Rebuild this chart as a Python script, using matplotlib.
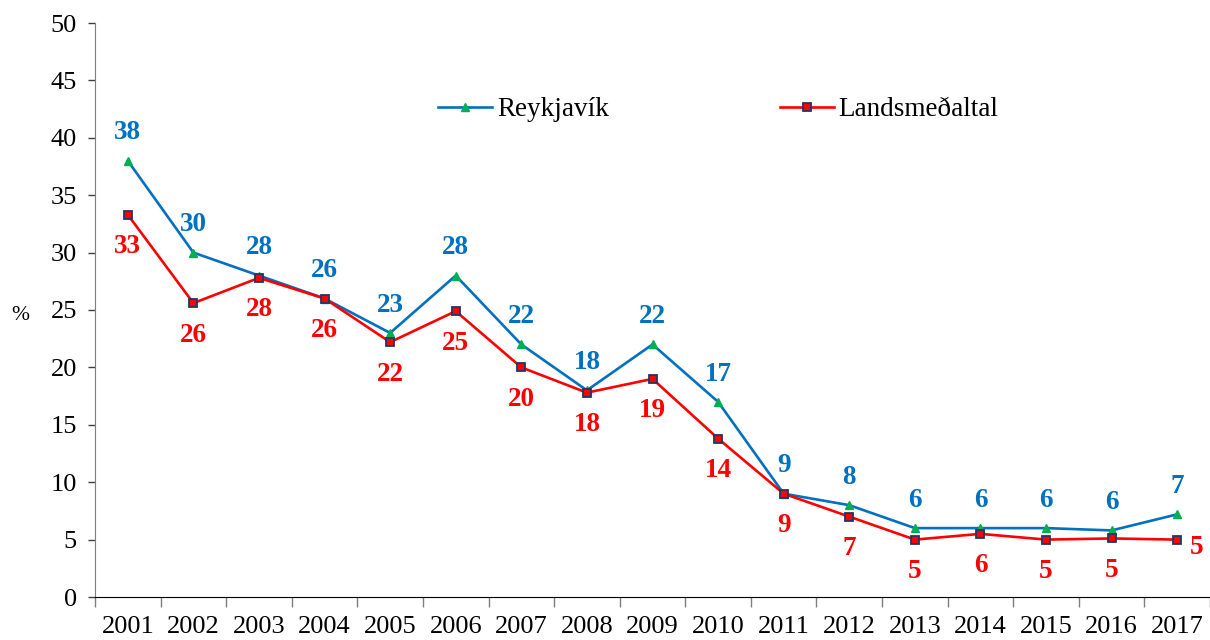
import matplotlib
matplotlib.use("Agg")
import matplotlib.pyplot as plt
import numpy as np

years = [str(y) for y in range(2001, 2018)]
reykjavik = [38, 30, 28, 26, 23, 28, 22, 18, 22, 17, 9, 8, 6, 6, 6, 5.8, 7.2]
landsmedaltal = [33.3, 25.6, 27.8, 26, 22.2, 24.9, 20, 17.8, 19, 13.8, 9, 7, 5, 5.5, 5, 5.1, 5]
series_names = ["Reykjavík", "Landsmeðaltal"]

plt.rcParams['font.family'] = ['Liberation Serif', 'DejaVu Serif']

fig = plt.figure(figsize=(12.1, 6.4), dpi=100)
ax = fig.add_axes([95/1210, 1-597/640, 1-95/1210, (597-23)/640])

x = np.arange(len(years))
blue = '#0070c0'
red = '#ff0000'

l1, = ax.plot(x, reykjavik, color=blue, lw=1.9, marker='^', markersize=6,
              markerfacecolor='#00b050', markeredgecolor='#00b050', label=series_names[0], zorder=3)
l2, = ax.plot(x, landsmedaltal, color=red, lw=1.9, marker='s', markersize=5.5,
              markerfacecolor=red, markeredgecolor='#1f3864', markeredgewidth=1.3,
              label=series_names[1], zorder=3)

for xi, v in zip(x, reykjavik):
    ax.annotate(f"{v:.0f}", (xi, v), xytext=(0, 20), textcoords='offset points',
                ha='center', va='center', color=blue, fontsize=19.5, fontweight='bold')
for i, (xi, v) in enumerate(zip(x, landsmedaltal)):
    if i == len(x) - 1:
        off = (14, -6)
    else:
        off = (0, -23)
    ax.annotate(f"{v:.0f}", (xi, v), xytext=off, textcoords='offset points',
                ha='center', va='center', color=red, fontsize=19.5, fontweight='bold')

ax.set_xlim(-0.5, len(years) - 0.5)
ax.set_ylim(0, 50)
ax.set_yticks(np.arange(0, 51, 5))
ax.set_xticks(x)
ax.set_xticklabels(years)
ax.set_xticks(np.arange(-0.5, len(years), 1), minor=True)
ax.tick_params(axis='x', which='major', length=0, labelsize=19, pad=14)
ax.tick_params(axis='x', which='minor', length=7, width=1, color='#7f7f7f', direction='out')
ax.tick_params(axis='y', length=5, width=1, color='#404040', labelsize=19, pad=8)

for s in ['top', 'right']:
    ax.spines[s].set_visible(False)
ax.spines['left'].set_color('#7f7f7f')
ax.spines['bottom'].set_color('black')

fig.text(20/1210, 1-316/640, '%', fontsize=15.5, ha='center', va='center')

ax.legend(handles=[l1, l2], loc='center left', bbox_to_anchor=(343/1115, (597-110)/574), ncol=2,
          frameon=False, fontsize=19.5, handlelength=2.0, handletextpad=0.18,
          columnspacing=6.3, borderaxespad=0, borderpad=0)

fig.savefig('out.png', dpi=100)
